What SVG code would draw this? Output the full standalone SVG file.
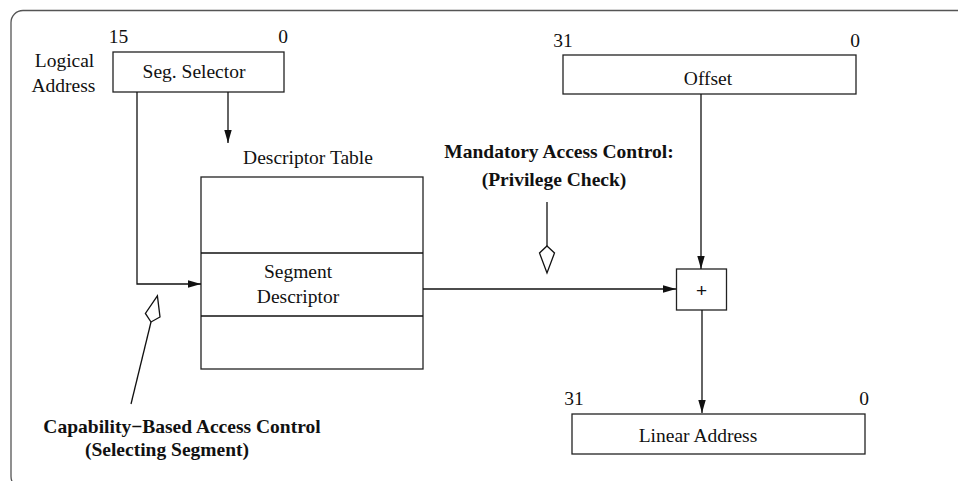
<svg xmlns="http://www.w3.org/2000/svg" width="958" height="481" viewBox="0 0 958 481">
  <defs>
    <style>
      .t { font-family: "Liberation Serif", "Times New Roman", serif; font-size: 19.5px; fill: #111; text-anchor: middle; }
      .b { font-weight: bold; }
      .box { fill: #fff; stroke: #222; stroke-width: 1.3; }
      .ln { fill: none; stroke: #111; stroke-width: 1.3; }
      .kite { fill: #fff; stroke: #111; stroke-width: 1.3; stroke-linejoin: miter; }
    </style>
    <marker id="arr" markerUnits="userSpaceOnUse" markerWidth="14" markerHeight="8" refX="13" refY="4" orient="auto">
      <path d="M0,0.3 L13,4 L0,7.7 Z" fill="#111"/>
    </marker>
  </defs>
  <rect width="958" height="481" fill="#fff"/>
  <rect x="11" y="10.5" width="1000" height="478" rx="12" ry="12" fill="none" stroke="#555" stroke-width="1.3"/>

  <g id="logical-address">
    <text class="t" x="64.5" y="67">Logical</text>
    <text class="t" x="63.5" y="92">Address</text>
  </g>

  <g id="seg-selector">
    <rect class="box" x="113" y="52" width="171" height="40"/>
    <text class="t" x="194" y="78">Seg. Selector</text>
    <text class="t" x="118.5" y="43">15</text>
    <text class="t" x="283" y="43">0</text>
  </g>

  <g id="descriptor-table">
    <text class="t" x="308" y="164">Descriptor Table</text>
    <rect class="box" x="201" y="177" width="222" height="192"/>
    <line class="ln" x1="201" y1="253" x2="423" y2="253"/>
    <line class="ln" x1="201" y1="316" x2="423" y2="316"/>
    <text class="t" x="298" y="278">Segment</text>
    <text class="t" x="298" y="303">Descriptor</text>
  </g>

  <g id="offset">
    <rect class="box" x="563" y="55" width="293" height="39"/>
    <text class="t" x="708" y="85">Offset</text>
    <text class="t" x="563" y="47">31</text>
    <text class="t" x="855" y="47">0</text>
  </g>

  <g id="adder">
    <rect class="box" x="676.5" y="269" width="50" height="41"/>
    <text x="701.5" y="297" style="font-family:'Liberation Sans',Arial,sans-serif;font-size:19px;fill:#111;text-anchor:middle">+</text>
  </g>

  <g id="linear-address">
    <rect class="box" x="572" y="414" width="293" height="40"/>
    <text class="t" x="698" y="442">Linear Address</text>
    <text class="t" x="574" y="405">31</text>
    <text class="t" x="864" y="405">0</text>
  </g>

  <g id="mandatory-label">
    <text class="t b" x="559" y="158">Mandatory Access Control:</text>
    <text class="t b" x="554" y="186">(Privilege Check)</text>
  </g>

  <g id="capability-label">
    <text class="t b" x="182" y="433">Capability−Based Access Control</text>
    <text class="t b" x="167" y="456">(Selecting Segment)</text>
  </g>

  <g id="connectors">
    <line class="ln" x1="228" y1="92" x2="228" y2="143" marker-end="url(#arr)"/>
    <polyline class="ln" points="137,92 137,284 201,284" marker-end="url(#arr)"/>
    <line class="ln" x1="423" y1="289" x2="676" y2="289" marker-end="url(#arr)"/>
    <line class="ln" x1="701" y1="94" x2="701" y2="269" marker-end="url(#arr)"/>
    <line class="ln" x1="702" y1="310" x2="702" y2="413" marker-end="url(#arr)"/>
    <line class="ln" x1="547" y1="202" x2="547" y2="246"/>
    <polygon class="kite" points="547,246 554.5,253 547,273 539.5,253"/>
    <line class="ln" x1="131" y1="404" x2="151" y2="322"/>
    <polygon class="kite" points="151,322 145.4,313.4 157.4,295.8 160,317"/>
  </g>
</svg>
